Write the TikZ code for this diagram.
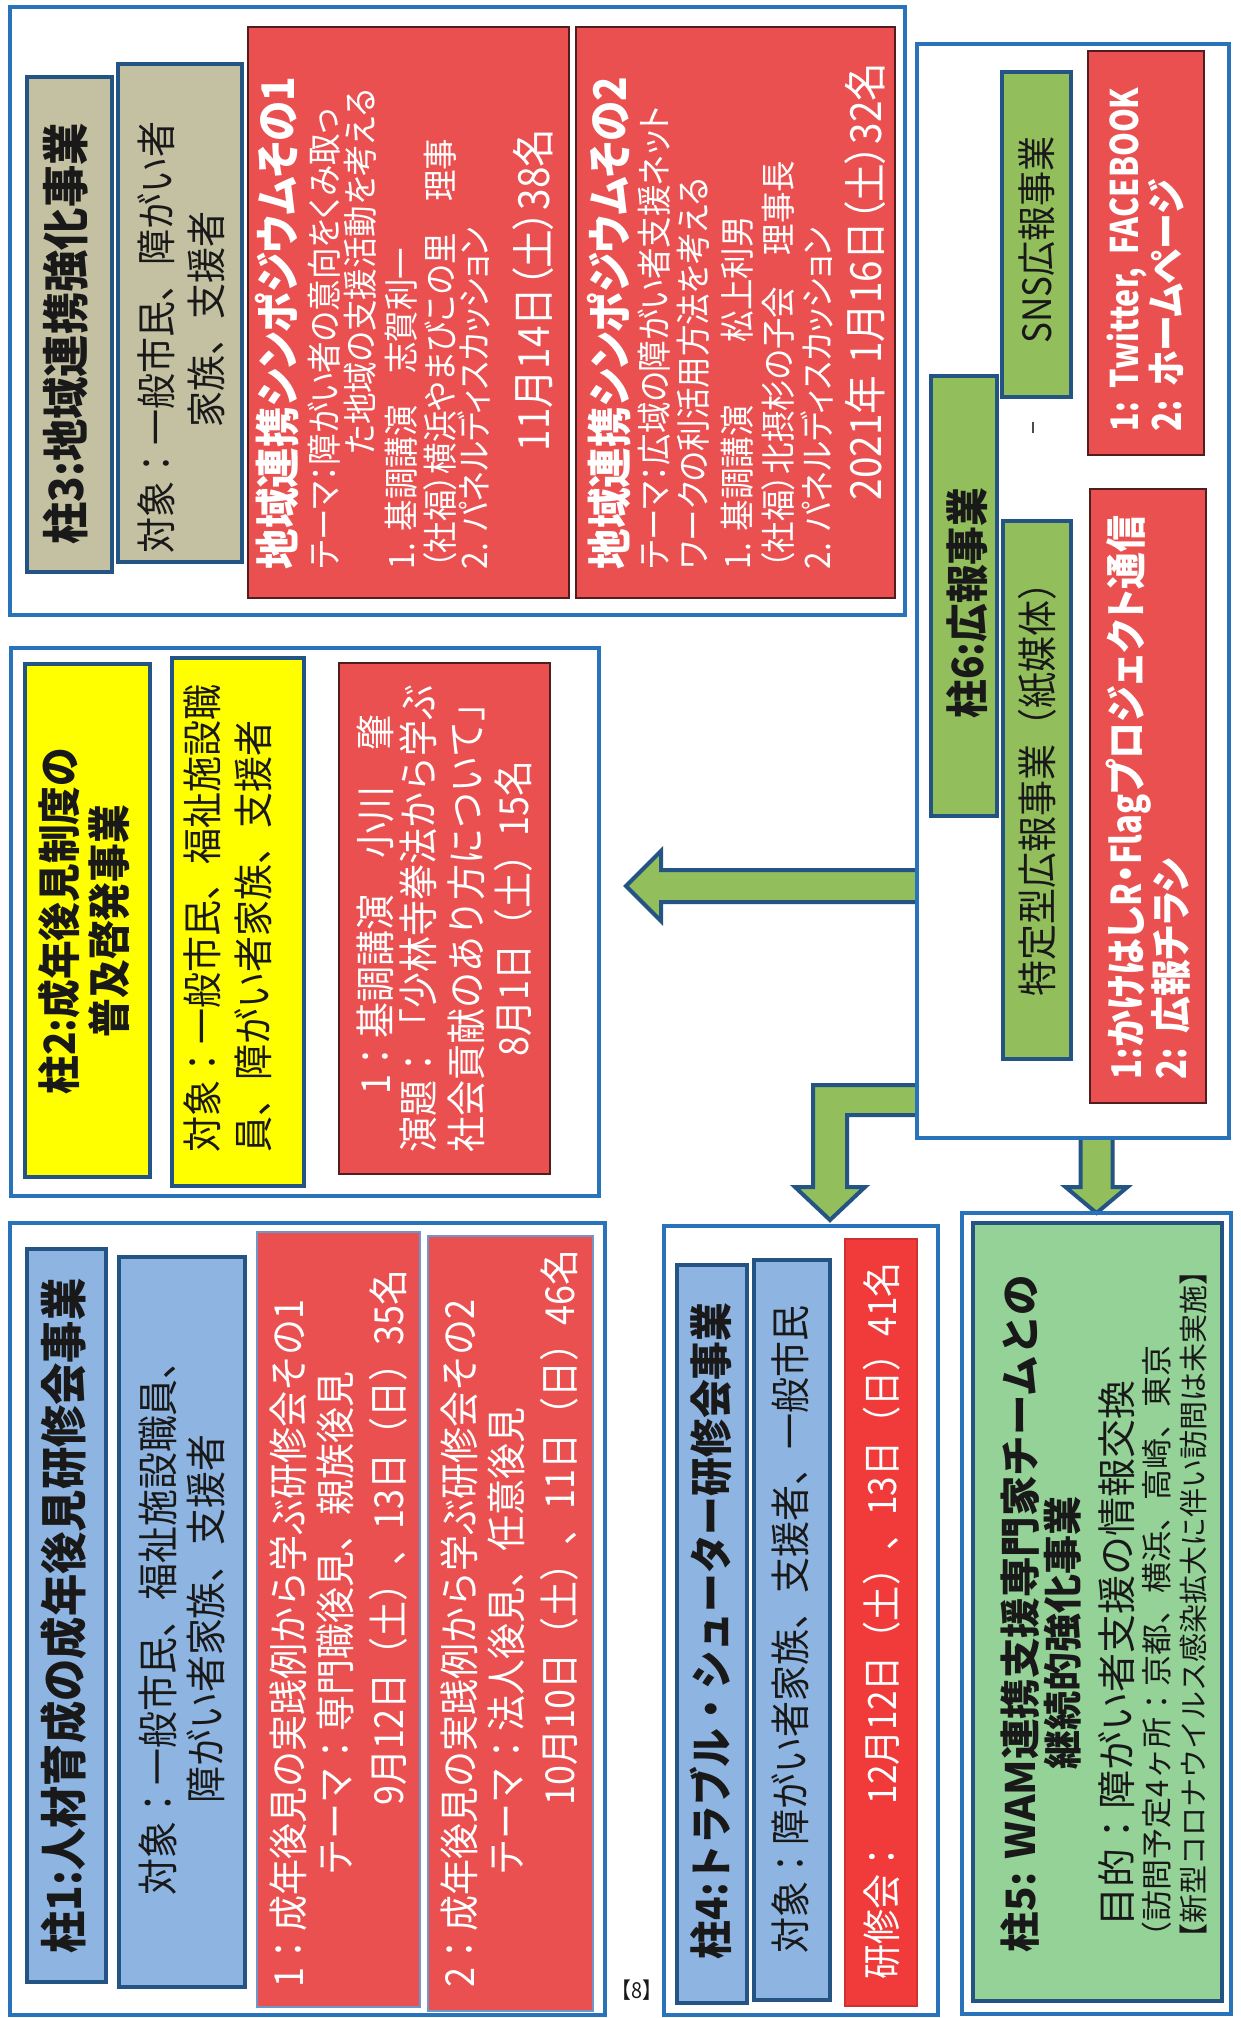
\documentclass[tikz,border=0pt]{standalone}
\usepackage{fontspec}
\setmainfont{Noto Sans CJK JP}[FakeStretch=0.9]
\newfontfamily\pf{Noto Sans CJK JP}[FakeStretch=0.9,RawFeature=+palt]
\newfontfamily\wf{Noto Sans CJK JP}
\newfontfamily\nlat{Noto Sans CJK JP}[FakeStretch=0.8]
\usetikzlibrary{calc}
\newcommand\fsz[2]{\fontsize{#1pt}{#2pt}\selectfont}
\definecolor{frameblue}{RGB}{40,115,185}
\definecolor{boxblue}{RGB}{36,84,132}
\definecolor{beige}{RGB}{196,192,162}
\definecolor{lblue}{RGB}{142,180,226}
\definecolor{yel}{RGB}{255,255,0}
\definecolor{redfill}{RGB}{234,80,80}
\definecolor{redline}{RGB}{80,30,30}
\definecolor{rOneLine}{RGB}{110,150,200}
\definecolor{redfour}{RGB}{241,58,58}
\definecolor{agreen}{RGB}{146,190,92}
\definecolor{lgreen}{RGB}{148,210,152}
\definecolor{txtblack}{RGB}{25,25,25}
\pgfdeclarelayer{bg}
\pgfsetlayers{bg,main}
\begin{document}
\lineskiplimit=-100pt \lineskip=0pt
\begin{tikzpicture}[x=1pt,y=-1pt,
  frm/.style={draw=frameblue, line width=3.5pt, inner sep=0pt, outer sep=0pt},
  bx/.style={draw=boxblue, line width=4.5pt, inner sep=0pt, outer sep=0pt},
  rbx/.style={draw=redline, line width=1.2pt, fill=redfill, inner sep=0pt, outer sep=0pt},
  tl/.style={rotate=90, inner sep=0pt, outer sep=0pt, text width=#1, align=left, anchor=west, text=txtblack},
  tc/.style={rotate=90, inner sep=0pt, outer sep=0pt, text width=#1, align=center, text=txtblack},
  arrowline/.style={draw=boxblue, line width=4pt, line join=miter}]
\useasboundingbox (0,0) rectangle (1240,2018);
\begin{pgfonlayer}{bg}
\fill[white] (0,0) rectangle (1240,2018);
\end{pgfonlayer}

% frames
\node[frm, minimum width=895pt, minimum height=608pt] (f3) at (457.5,311) {};
\node[frm, minimum width=312pt, minimum height=1094pt] (f6) at (1073,591) {};
\node[frm, minimum width=588pt, minimum height=548pt] (f2) at (305,922) {};
\node[frm, minimum width=595pt, minimum height=792pt] (f1) at (307.5,1619) {};
\node[frm, minimum width=274pt, minimum height=789pt] (f4) at (801,1620.5) {};
\node[frm, minimum width=269pt, minimum height=801pt] (f5) at (1096.5,1613.5) {};

% pillar 3
\node[bx, fill=beige, minimum width=85pt, minimum height=495pt] (t3) at (69.5,324.5) {};
\node[tc=480pt, font=\bfseries\fsz{47}{50}] (t3t) at (66,334) {柱3:地域連携強化事業};
\node[bx, fill=beige, minimum width=124pt, minimum height=498pt] (o3) at (180,313) {};
\node[tl=480pt, font=\fsz{40}{50}] (o3t) at (181,553) {対象：一般市民、障がい者\\\hspace*{126pt}家族、支援者};
\node[rbx, minimum width=321pt, minimum height=571pt] (r3a) at (408.5,312.5) {};
\node[tl=560pt, text=white, font=\pf\fsz{35}{38}] (r3at) at (404.5,569) {%
{\bfseries\fsz{45}{38}地域連携シンポジウムその1}\\[5pt]
テーマ：障がい者の意向をくみ取っ\\[-2pt]
\hspace*{114pt}た地域の支援活動を考える\\[3pt]
1.~基調講演　志賀利一\\[1pt]
（社福）横浜やまびこの里　理事\\[-4pt]
2.~パネルディスカッション\\[22pt]
{\fsz{43}{38}\hspace*{118pt}11月14日（土）38名}};
\node[rbx, minimum width=319pt, minimum height=571pt] (r3b) at (735.5,312.5) {};
\node[tl=560pt, text=white, font=\pf\fsz{35}{40}] (r3bt) at (736.5,569) {%
{\bfseries\fsz{45}{40}地域連携シンポジウムその2}\\[1pt]
テーマ：広域の障がい者支援ネット\\[-1pt]
ワークの利活用方法を考える\\[4pt]
1.~基調講演　　松上利男\\[1pt]
（社福）北摂杉の子会　理事長\\[-1pt]
2.~パネルディスカッション\\[11pt]
{\fsz{43}{40}\hspace*{69pt}2021年~1月16日（土）32名}};

% pillar 6
\node[bx, fill=agreen, minimum width=66pt, minimum height=440pt] (t6) at (964,596) {};
\node[tc=430pt, font=\bfseries\fsz{43}{46}] (t6t) at (967,603) {柱6:広報事業};
\node[bx, fill=agreen, minimum width=68pt, minimum height=538pt] (s6a) at (1037,790) {};
\node[tc=520pt, font=\fsz{40}{44}] (s6at) at (1037,780) {特定型広報事業（紙媒体）};
\node[bx, fill=agreen, minimum width=69pt, minimum height=325pt] (s6b) at (1036.5,234.5) {};
\node[tc=310pt, font=\fsz{39}{44}] (s6bt) at (1037,240) {SNS広報事業};
\node[rbx, minimum width=116pt, minimum height=404pt] (r6a) at (1146,253) {};
\node[tl=400pt, text=white, font=\pf\bfseries\fsz{40}{43}] (r6at) at (1145.5,431) {{\nlat\fsz{38}{43}1:~Twitter,~FACEBOOK}\\{\nlat 2:~}ホームページ};
\node[rbx, minimum width=116pt, minimum height=614pt] (r6b) at (1148,796) {};
\node[tl=600pt, text=white, font=\pf\bfseries\fsz{41}{45}] (r6bt) at (1148.5,1079) {{\nlat 1:}かけはし{\nlat R}・{\nlat Flag}プロジェクト通信\\{\nlat 2:~}広報チラシ};
\draw[line width=1.5pt, black!70] (1033,422) -- (1033,433);

% pillar 2
\node[bx, fill=yel, minimum width=125pt, minimum height=513pt] (t2) at (87.5,920.5) {};
\node[tc=500pt, font=\bfseries\fsz{43}{50}] (t2t) at (84,921) {柱2:成年後見制度の\\普及啓発事業};
\node[bx, fill=yel, minimum width=132pt, minimum height=528pt] (o2) at (238,922) {};
\node[tl=500pt, font=\fsz{40}{51}] (o2t) at (227.5,1152) {対象：一般市民、福祉施設職\\員、障がい者家族、支援者};
\node[rbx, minimum width=211pt, minimum height=511pt] (r2) at (444.5,918.5) {};
\node[tl=500pt, text=white, font=\fsz{40}{46}] (r2t) at (445,1152) {\hspace*{58pt}1：基調講演　小川　肇\\[-3pt]演題：「少林寺拳法から学ぶ\\[2pt]社会貢献のあり方について」\\[1pt]\hspace*{96pt}8月1日（土）15名};

% pillar 1
\node[bx, fill=lblue, minimum width=79pt, minimum height=733pt] (t1) at (66.5,1615.5) {};
\node[tc=720pt, font=\bfseries\fsz{47}{50}] (t1t) at (64,1616) {柱1:人材育成の成年後見研修会事業};
\node[bx, fill=lblue, minimum width=126pt, minimum height=730pt] (o1) at (182,1622) {};
\node[tc=720pt, font=\fsz{41}{48}] (o1t) at (182,1619) {対象：一般市民、福祉施設職員、\\障がい者家族、支援者};
\node[rbx, draw=rOneLine, line width=1.5pt, minimum width=163pt, minimum height=775pt] (r1a) at (338.5,1619.5) {};
\node[tl=760pt, text=white, font=\fsz{40}{50}] (r1at) at (339,1987) {1：成年後見の実践例から学ぶ研修会その1\\[-3pt]\hspace*{112pt}テーマ：専門職後見、親族後見\\[3pt]\hspace*{182pt}9月12日（土）、13日（日）35名};
\node[rbx, draw=rOneLine, line width=1.5pt, minimum width=165pt, minimum height=775pt] (r1b) at (510.5,1623.5) {};
\node[tl=760pt, text=white, font=\fsz{40}{50}] (r1bt) at (509.5,1987) {2：成年後見の実践例から学ぶ研修会その2\\[-3pt]\hspace*{112pt}テーマ：法人後見、任意後見\\[3pt]\hspace*{182pt}10月10日（土）、11日（日）46名};

% pillar 4
\node[bx, fill=lblue, minimum width=70pt, minimum height=738pt] (t4) at (712,1634) {};
\node[tc=730pt, font=\bfseries\fsz{43}{46}] (t4t) at (711,1631) {柱4:トラブル・シューター研修会事業};
\node[bx, fill=lblue, minimum width=76pt, minimum height=740pt] (o4) at (792,1630) {};
\node[tc=730pt, font=\fsz{40}{44}] (o4t) at (790,1629) {対象：障がい者家族、支援者、一般市民};
\node[rbx, fill=redfour, draw=redfour!85!black, minimum width=72pt, minimum height=767pt] (r4) at (881,1622.5) {};
\node[tc=760pt, text=white, font=\fsz{39}{44}] (r4t) at (882,1621) {研修会：　12月12日（土）、13日（日）41名};

% pillar 5
\node[bx, fill=lgreen, minimum width=249pt, minimum height=778pt] (g5) at (1097.5,1612) {};
\node[tl=770pt, font=\wf\fsz{39}{37}] (g5t) at (1103.5,1952) {{\bfseries\fsz{40.5}{37}柱5:~WAM連携支援専門家チームとの}\\[4pt]\hspace*{183pt}{\bfseries 継続的強化事業}\\[17pt]\hspace*{26pt}目的：障がい者支援の情報交換\\[0pt]{\fsz{31}{37}（訪問予定4ヶ所：京都、横浜、高崎、東京}\\[-1pt]{\fsz{29}{37}【新型コロナウイルス感染拡大に伴い訪問は未実施】}};

% page number
\node[font=\fsz{22}{24}, text=txtblack, inner sep=0pt] (pg) at (637,1990) {【8】};

% arrows
\coordinate (a1t) at (626,886);
\coordinate (a1s) at (f6.west |- a1t);
\coordinate (a2t) at (830,1220);
\coordinate (a2s) at ($(f6.south west)+(0,-38)$);
\coordinate (a3s) at (f5.north |- f6.south);
\coordinate (a3t) at (f5.north);
\begin{pgfonlayer}{bg}
\fill[agreen] ($(a1s)+(0,-16)$) -- ($(a1t)+(35,-16)$) -- ($(a1t)+(35,-35)$) -- (a1t) -- ($(a1t)+(35,35)$) -- ($(a1t)+(35,16)$) -- ($(a1s)+(0,16)$) -- cycle;
\draw[arrowline] ($(a1s)+(0,-16)$) -- ($(a1t)+(35,-16)$) -- ($(a1t)+(35,-35)$) -- (a1t) -- ($(a1t)+(35,35)$) -- ($(a1t)+(35,16)$) -- ($(a1s)+(0,16)$);
\fill[agreen] ($(a2s)+(0,-15)$) -- ($(a2t)+(-17,-135)$) -- ($(a2t)+(-17,-33)$) -- ($(a2t)+(-35,-33)$) -- (a2t) -- ($(a2t)+(35,-33)$) -- ($(a2t)+(17,-33)$) -- ($(a2t)+(17,-105)$) -- ($(a2s)+(0,15)$) -- cycle;
\draw[arrowline] ($(a2s)+(0,-15)$) -- ($(a2t)+(-17,-135)$) -- ($(a2t)+(-17,-33)$) -- ($(a2t)+(-35,-33)$) -- (a2t) -- ($(a2t)+(35,-33)$) -- ($(a2t)+(17,-33)$) -- ($(a2t)+(17,-105)$) -- ($(a2s)+(0,15)$);
\fill[agreen] ($(a3s)+(-16,0)$) -- ($(a3t)+(-16,-26)$) -- ($(a3t)+(-31,-26)$) -- (a3t) -- ($(a3t)+(31,-26)$) -- ($(a3t)+(16,-26)$) -- ($(a3s)+(16,0)$) -- cycle;
\draw[arrowline] ($(a3s)+(-16,0)$) -- ($(a3t)+(-16,-26)$) -- ($(a3t)+(-31,-26)$) -- (a3t) -- ($(a3t)+(31,-26)$) -- ($(a3t)+(16,-26)$) -- ($(a3s)+(16,0)$);
\end{pgfonlayer}
\end{tikzpicture}
\end{document}
